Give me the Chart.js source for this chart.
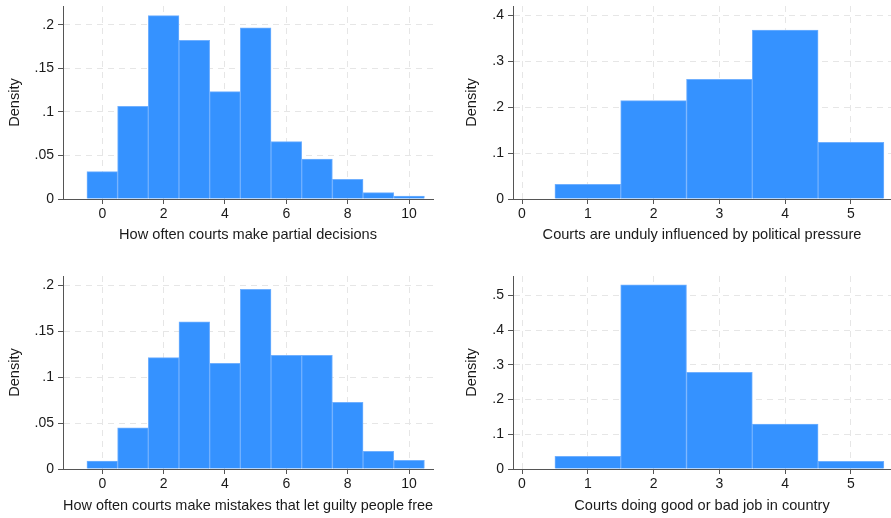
<!DOCTYPE html>
<html>
<head>
<meta charset="utf-8">
<script src="https://cdn.jsdelivr.net/npm/chart.js@4"></script>
<style>
  html, body { margin: 0; padding: 0; background: #fff; }
  #wrap { position: relative; width: 891px; height: 518px; overflow: hidden; }
  .panel { position: absolute; }
</style>
</head>
<body>
<div id="wrap">
  <div class="panel" style="left:0;top:0;width:445px;height:259px"><canvas id="c1"></canvas></div>
  <div class="panel" style="left:445px;top:0;width:446px;height:259px"><canvas id="c2"></canvas></div>
  <div class="panel" style="left:0;top:259px;width:445px;height:259px"><canvas id="c3"></canvas></div>
  <div class="panel" style="left:445px;top:259px;width:446px;height:259px"><canvas id="c4"></canvas></div>
</div>
<script>
// bins (integer answer values) and densities
const bins10 = [0, 1, 2, 3, 4, 5, 6, 7, 8, 9, 10];
const bins5 = [1, 2, 3, 4, 5];

const partialDecisions = [0.0314, 0.1065, 0.2107, 0.1824, 0.1234, 0.1966, 0.0659, 0.046, 0.0226, 0.0073, 0.0034];
const politicalPressure = [0.032, 0.2145, 0.261, 0.3687, 0.1236];
const guiltyFree = [0.0087, 0.0449, 0.1214, 0.1605, 0.1152, 0.196, 0.1239, 0.1239, 0.0728, 0.0192, 0.0094];
const goodBadJob = [0.0365, 0.53, 0.278, 0.1296, 0.0221];

const xTicks10 = [0, 2, 4, 6, 8, 10];
const xTicks5 = [0, 1, 2, 3, 4, 5];
const yTicksA = [0, 0.05, 0.1, 0.15, 0.2];
const yTicksB = [0, 0.1, 0.2, 0.3, 0.4];
const yTicksC = [0, 0.1, 0.2, 0.3, 0.4, 0.5];

const FONT = '"Liberation Sans", Arial, Helvetica, sans-serif';
const AXIS = '#555555';
const GRID = '#e6e6e6';
const TEXT = '#1a1a1a';

// stata style: .05 instead of 0.05
function fmt(v) {
  if (v === 0) return '0';
  let s = String(Math.round(v * 1000) / 1000);
  return s.replace(/^0\./, '.');
}

function makeHist(id, bins, values, cfg) {
  new Chart(document.getElementById(id), {
    type: 'bar',
    data: {
      datasets: [{
        data: bins.map((b, i) => ({x: b, y: values[i]})),
        backgroundColor: '#3592ff',
        borderColor: '#70b0ff',
        borderWidth: 1,
        borderSkipped: 'bottom',
        barPercentage: 1,
        categoryPercentage: 1
      }]
    },
    options: {
      responsive: true,
      maintainAspectRatio: false,
      animation: false,
      layout: { padding: { top: cfg.top, right: cfg.right, left: 0, bottom: 0 } },
      plugins: { legend: { display: false }, tooltip: { enabled: false } },
      scales: {
        x: {
          type: 'linear',
          offset: false,
          min: cfg.xmin,
          max: cfg.xmax,
          afterBuildTicks: s => { s.ticks = cfg.xticks.map(v => ({value: v})); },
          afterFit: s => { s.height = cfg.xh; s.paddingLeft = 0; s.paddingRight = 0; },
          ticks: { font: { family: FONT, size: 14 }, color: TEXT, padding: 2, maxRotation: 0, callback: v => String(v) },
          grid: { offset: false, color: GRID, tickColor: AXIS, tickLength: 5, tickWidth: 1 },
          border: { display: true, color: AXIS, width: 1, dash: [6, 5] },
          title: { display: true, text: cfg.xtitle, color: TEXT, font: { family: FONT, size: 14.6 },
                   padding: { top: 0, bottom: cfg.xtpad } }
        },
        y: {
          min: 0,
          max: cfg.ymax,
          afterBuildTicks: s => { s.ticks = cfg.yticks.map(v => ({value: v})); },
          afterFit: s => { s.width = cfg.yw; s.paddingTop = 0; s.paddingBottom = 0; },
          ticks: { font: { family: FONT, size: 14 }, color: TEXT, padding: 4, callback: v => fmt(v) },
          grid: { color: GRID, tickColor: AXIS, tickLength: 5, tickWidth: 1 },
          border: { display: true, color: AXIS, width: 1, dash: [6, 5] },
          title: { display: true, text: 'Density', color: TEXT, font: { family: FONT, size: 14.6 },
                   padding: { top: cfg.ytpad, bottom: 0 } }
        }
      }
    }
  });
}

makeHist('c1', bins10, partialDecisions, {
  top: 6, right: 12, xh: 60, yw: 63, xmin: -1.28, xmax: 10.78, ymax: 0.2218,
  xticks: xTicks10, yticks: yTicksA, xtitle: 'How often courts make partial decisions', xtpad: 15, ytpad: 6.2
});
makeHist('c2', bins5, politicalPressure, {
  top: 6, right: 0, xh: 60, yw: 68, xmin: -0.137, xmax: 5.608, ymax: 0.421,
  xticks: xTicks5, yticks: yTicksB, xtitle: 'Courts are unduly influenced by political pressure', xtpad: 15, ytpad: 18.6
});
makeHist('c3', bins10, guiltyFree, {
  top: 17, right: 12, xh: 49, yw: 63, xmin: -1.28, xmax: 10.78, ymax: 0.2105,
  xticks: xTicks10, yticks: yTicksA, xtitle: 'How often courts make mistakes that let guilty people free', xtpad: 3.5, ytpad: 6.2
});
makeHist('c4', bins5, goodBadJob, {
  top: 17, right: 0, xh: 49, yw: 68, xmin: -0.137, xmax: 5.608, ymax: 0.5557,
  xticks: xTicks5, yticks: yTicksC, xtitle: 'Courts doing good or bad job in country', xtpad: 3.5, ytpad: 18.6
});
</script>
</body>
</html>
